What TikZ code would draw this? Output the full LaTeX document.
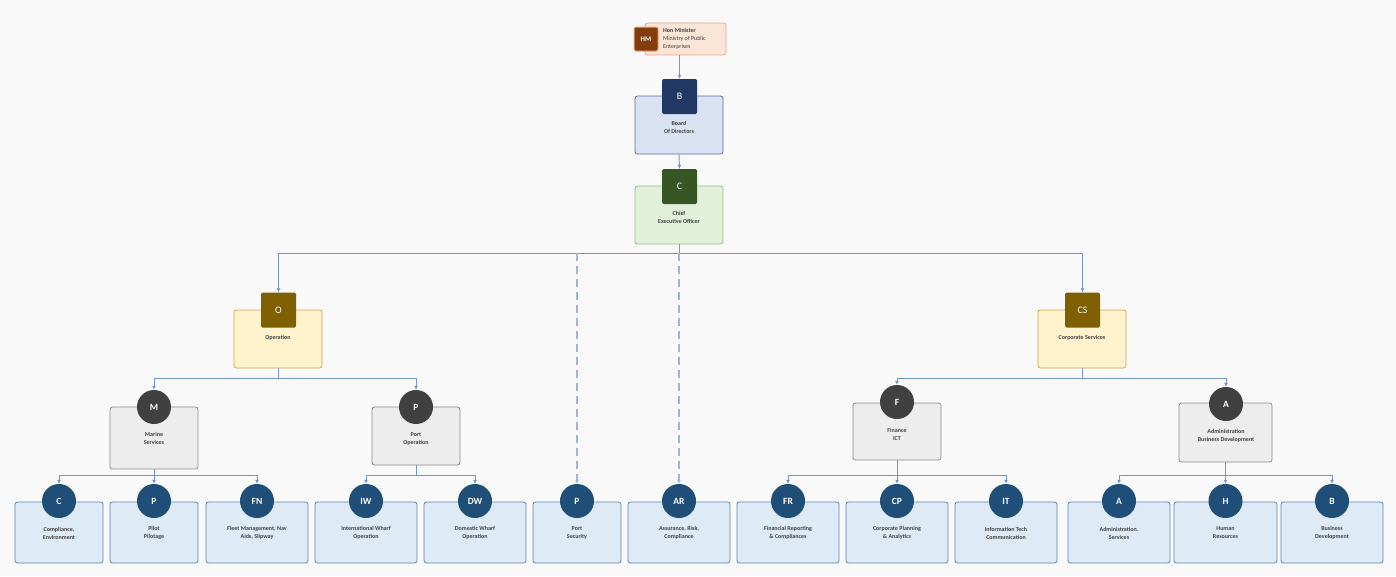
\documentclass[tikz,border=0pt]{standalone}
\usepackage{fontspec}
\setmainfont{Carlito}
\usetikzlibrary{arrows.meta}
\definecolor{bgc}{HTML}{F9F9F9}
\definecolor{connc}{HTML}{7395D0}
\definecolor{dashc}{HTML}{9FB5DF}
\definecolor{txtc}{HTML}{404040}
\definecolor{hmfill}{HTML}{FBE5D6}
\definecolor{hmdraw}{HTML}{E8A98A}
\definecolor{hmicon}{HTML}{843C0C}
\definecolor{bfill}{HTML}{DAE3F3}
\definecolor{bdraw}{HTML}{5B6FA0}
\definecolor{bicon}{HTML}{1F3864}
\definecolor{cfill}{HTML}{E2F0D9}
\definecolor{cdraw}{HTML}{9DB88E}
\definecolor{cicon}{HTML}{375623}
\definecolor{ofill}{HTML}{FFF2CC}
\definecolor{odraw}{HTML}{C9A94A}
\definecolor{oicon}{HTML}{7F6000}
\definecolor{gfill}{HTML}{EDEDED}
\definecolor{gdraw}{HTML}{8C8C8C}
\definecolor{gicon}{HTML}{404040}
\definecolor{lfill}{HTML}{DEEAF6}
\definecolor{ldraw}{HTML}{5E86AE}
\definecolor{licon}{HTML}{1F4E79}
\begin{document}
\begin{tikzpicture}[x=1pt,y=-1pt,
  box/.style={rounded corners=2.5pt, line width=0.8pt, inner sep=0pt},
  topbox/.style={box, minimum width=88pt, minimum height=58pt},
  leafbox/.style={box, fill=lfill, draw=ldraw, minimum height=61pt},
  sqicon/.style={rounded corners=1.5pt, minimum size=35pt, inner sep=0pt, text=white, font=\fontsize{10}{12}\selectfont},
  circicon/.style={circle, minimum size=34pt, inner sep=0pt, text=white, font=\fontsize{9.5}{11}\selectfont\bfseries},
  lbl/.style={align=center, text=txtc, font=\fontsize{6}{8}\selectfont\bfseries, inner sep=0pt},
  conn/.style={draw=connc, line width=0.9pt},
  arr/.style={conn, -{Latex[length=4pt,width=4pt]}},
  darr/.style={draw=dashc, line width=1.1pt, dash pattern=on 8pt off 5pt, -{Latex[length=4pt,width=4pt]}}
]
\useasboundingbox (0,0) rectangle (1396,576);
\fill[bgc] (0,0) rectangle (1396,576);

% Hon Minister
\node[box, fill=hmfill, draw=hmdraw, minimum width=81pt, minimum height=32pt] (hm) at (685.5,39) {};
\node[rounded corners=1.5pt, minimum size=24pt, inner sep=0pt, fill=hmicon, draw=hmdraw, line width=1pt, text=white, font=\fontsize{7}{8}\selectfont\bfseries] (hmi) at (646,39) {HM};
\node[align=left, anchor=north west, inner sep=0pt, text=txtc, font=\fontsize{6}{8}\selectfont] (hmt) at (663,28) {\textbf{Hon Minister}\\Ministry of Public\\Enterprises};

% Board
\node[topbox, fill=bfill, draw=bdraw] (bb) at (679,125) {};
\node[sqicon, fill=bicon] (bsq) at (679.5,96.5) {B};
\node[lbl] (bt) at (679,127) {Board\\Of Directors};

% CEO
\node[topbox, fill=cfill, draw=cdraw] (cb) at (679,215) {};
\node[sqicon, fill=cicon] (csq) at (679.5,186.5) {C};
\node[lbl] (ct) at (679,217) {Chief\\Executive Officer};

% Operation
\node[topbox, fill=ofill, draw=odraw] (ob) at (278,339) {};
\node[sqicon, fill=oicon] (osq) at (278.5,310) {O};
\node[lbl] (ot) at (278,337.5) {Operation};

% Corporate services
\node[topbox, fill=ofill, draw=odraw] (csb) at (1082,339) {};
\node[sqicon, fill=oicon] (cssq) at (1082.5,310) {CS};
\node[lbl] (cst) at (1082,337.5) {Corporate Services};

% Marine services
\node[box, fill=gfill, draw=gdraw, minimum width=88pt, minimum height=62pt] (mb) at (154,438) {};
\node[circicon, fill=gicon] (mc) at (154,407) {M};
\node[lbl] (mt) at (154,438) {Marine\\Services};

% Port operation
\node[box, fill=gfill, draw=gdraw, minimum width=88pt, minimum height=58pt] (pob) at (416,436) {};
\node[circicon, fill=gicon] (poc) at (416,407) {P};
\node[lbl] (pot) at (416,439) {Port\\Operation};

% Finance
\node[box, fill=gfill, draw=gdraw, minimum width=88pt, minimum height=57pt] (fb) at (897,431.5) {};
\node[circicon, fill=gicon] (fc) at (897,402) {F};
\node[lbl] (ft) at (897,434) {Finance\\ICT};

% Administration
\node[box, fill=gfill, draw=gdraw, minimum width=93pt, minimum height=59pt] (adb) at (1225.5,432.5) {};
\node[circicon, fill=gicon] (adc) at (1226,404) {A};
\node[lbl] (adt) at (1226,436) {Administration\\Business Development};

% Leaves
\foreach \n/\x/\w/\ic/\t in {
  l1/59/88/C/{Compliance,\\Environment},
  l2/154/88/P/{Pilot\\Pilotage},
  l3/257/102/FN/{Fleet Management, Nav\\Aids, Slipway},
  l4/366/102/IW/{International Wharf\\Operation},
  l5/475/102/DW/{Domestic Wharf\\Operation},
  l6/577/88/P/{Port\\Security},
  l7/679/102/AR/{Assurance, Risk,\\Compliance},
  l8/788/102/FR/{Financial Reporting\\\& Compliances},
  l9/897/102/CP/{Corporate Planning\\\& Analytics},
  l10/1006/102/IT/{Information Tech\\Communication},
  l11/1119/102/A/{Administration.\\Services},
  l12/1225.5/103/H/{Human\\Resources},
  l13/1332/102/B/{Business\\Development}}{
  \node[leafbox, minimum width=\w pt] (\n b) at (\x,532.5) {};
  \node[circicon, fill=licon] (\n c) at (\x,501) {\ic};
  \node[lbl] (\n t) at (\x,533) {\t};
}

% Connectors
\draw[arr] (hm.south -| bsq.north) -- (bsq.north);
\draw[arr] (bb.south) -- (csq.north);

\coordinate (bus0) at (679,253);
\coordinate (d1) at (577,253);
\draw[conn] (cb.south) -- (bus0);
\draw[arr] (bus0) -| (osq.north);
\draw[arr] (bus0) -| (cssq.north);
\draw[darr] (d1) -- (l6c.north);
\draw[darr] (bus0 -| l7c.north) -- (l7c.north);

\coordinate (busO) at (278,378);
\draw[conn] (ob.south) -- (busO);
\draw[arr] (busO) -| (mc.north);
\draw[arr] (busO) -| (poc.north);

\coordinate (busCS) at (1082,378);
\draw[conn] (csb.south) -- (busCS);
\draw[arr] (busCS) -| (fc.north);
\draw[arr] (busCS) -| (adc.north);

\coordinate (busM) at (154,475);
\draw[conn] (mb.south) -- (busM);
\draw[arr] (busM) -| (l1c.north);
\draw[arr] (busM) -- (l2c.north);
\draw[arr] (busM) -| (l3c.north);

\coordinate (busP) at (416,475);
\draw[conn] (pob.south) -- (busP);
\draw[arr] (busP) -| (l4c.north);
\draw[arr] (busP) -| (l5c.north);

\coordinate (busF) at (897,475);
\draw[conn] (fb.south) -- (busF);
\draw[arr] (busF) -| (l8c.north);
\draw[arr] (busF) -- (l9c.north);
\draw[arr] (busF) -| (l10c.north);

\coordinate (busA) at (1225.5,475);
\draw[conn] (adb.south) -- (busA);
\draw[arr] (busA) -| (l11c.north);
\draw[arr] (busA) -- (l12c.north);
\draw[arr] (busA) -| (l13c.north);
\end{tikzpicture}
\end{document}
